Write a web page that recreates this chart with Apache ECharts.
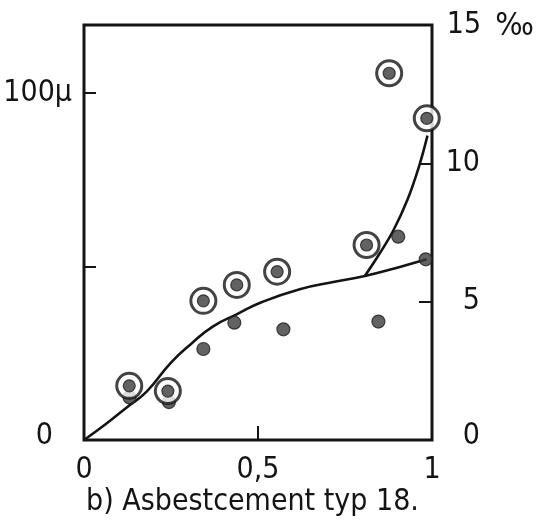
<!DOCTYPE html>
<html>
<head>
<meta charset="utf-8">
<script src="https://cdn.jsdelivr.net/npm/echarts@6/dist/echarts.min.js"></script>
<style>
  html, body { margin: 0; padding: 0; background: #fff; }
  #chart { width: 540px; height: 527px; }
</style>
</head>
<body>
<div id="chart"></div>
<script>
// Ringed measurements, left scale (μ)
const ringX = [0.130, 0.241, 0.343, 0.439, 0.555, 0.812, 0.877, 0.985];
const ringMicron = [15.6, 14.1, 40.1, 44.7, 48.5, 56.2, 105.7, 92.7];

// Plain measurements, right scale (‰)
const dotX = [0.131, 0.244, 0.343, 0.432, 0.573, 0.846, 0.903, 0.982];
const dotPermille = [1.54, 1.37, 3.29, 4.24, 4.00, 4.28, 7.35, 6.53];

// Drawn trend curve (‰) and its steep upper branch
const curveX = [0, 0.06, 0.12, 0.18, 0.25, 0.31, 0.37, 0.44, 0.51, 0.62, 0.72, 0.807, 0.90, 0.985];
const curvePermille = [0, 0.55, 1.15, 1.75, 2.8, 3.5, 4.1, 4.55, 4.98, 5.45, 5.72, 5.93, 6.23, 6.53];
const branchX = [0.807, 0.85, 0.89, 0.93, 0.963, 0.987];
const branchPermille = [5.93, 6.75, 7.6, 8.7, 9.9, 11.0];

// Axis ticks
const xTickLabels = { 0: '0', 0.5: '0,5', 1: '1' };
const leftTickLabels = { 0: '0', 100: '100μ' };
const rightTicks = [0, 5, 10, 15];

const FONT = "'Liberation Sans Narrow', 'DejaVu Sans Condensed', 'Liberation Sans', sans-serif";
const INK = '#141414';
const FS = 30;

const zip = (xs, ys) => xs.map((x, i) => [x, ys[i]]);

const chart = echarts.init(document.getElementById('chart'), null, { renderer: 'canvas' });

chart.setOption({
  backgroundColor: '#ffffff',
  animation: false,
  title: {
    text: 'b) Asbestcement typ 18.',
    left: 81,
    top: 482,
    textStyle: { fontFamily: FONT, fontSize: 30, fontWeight: 'normal', color: INK }
  },
  grid: {
    left: 84, right: 108, top: 25, bottom: 87,
    show: true, borderColor: INK, borderWidth: 3, backgroundColor: 'transparent'
  },
  xAxis: {
    type: 'value', min: 0, max: 1, interval: 0.5,
    axisLine: { show: false },
    axisTick: { show: true, inside: true, length: 14, lineStyle: { color: INK, width: 2 } },
    splitLine: { show: false },
    axisLabel: {
      margin: 15, fontFamily: FONT, fontSize: FS, color: INK,
      formatter: v => xTickLabels[v] ?? ''
    }
  },
  yAxis: [
    {
      type: 'value', min: 0, max: 119.6, interval: 50, position: 'left',
      axisLine: { show: false },
      axisTick: { show: true, inside: true, length: 12, lineStyle: { color: INK, width: 2 } },
      splitLine: { show: false },
      axisLabel: {
        margin: 12, showMaxLabel: false, fontFamily: FONT, fontSize: FS, color: INK,
        formatter: v => v === 0 ? '{z|0}' : (leftTickLabels[v] ?? ''),
        rich: { z: { fontFamily: FONT, fontSize: FS, color: INK, padding: [0, 19, 8, 0] } }
      }
    },
    {
      type: 'value', min: 0, max: 15, interval: 5, position: 'right',
      axisLine: { show: false },
      axisTick: { show: true, inside: true, length: 13, lineStyle: { color: INK, width: 2 } },
      splitLine: { show: false },
      axisLabel: {
        margin: 16, align: 'left', fontFamily: FONT, fontSize: FS, color: INK,
        formatter: v => {
          if (!rightTicks.includes(v)) return '';
          if (v === 15) return '{n|15}{u| ‰}';
          if (v === 0) return '{b|0}';
          return '{n|' + v + '}';
        },
        rich: {
          n: { width: 32, align: 'right', fontFamily: FONT, fontSize: FS, color: INK },
          b: { width: 32, align: 'right', fontFamily: FONT, fontSize: FS, color: INK, padding: [0, 0, 8, 0] },
          u: { fontFamily: FONT, fontSize: 32, color: INK, padding: [4, 0, 0, 6] }
        }
      }
    }
  ],
  series: [
    {
      type: 'line', yAxisIndex: 1, data: zip(curveX, curvePermille),
      smooth: 0.5, showSymbol: false, symbol: 'none',
      lineStyle: { color: INK, width: 2.6 }, z: 3
    },
    {
      type: 'line', yAxisIndex: 1, data: zip(branchX, branchPermille),
      smooth: 0.4, showSymbol: false, symbol: 'none',
      lineStyle: { color: INK, width: 2.6 }, z: 3
    },
    {
      // plain measured points
      type: 'scatter', yAxisIndex: 1, data: zip(dotX, dotPermille),
      symbol: 'circle', symbolSize: 13,
      itemStyle: { color: '#3b3b3b', borderColor: '#1e1e1e', borderWidth: 1.2 }, z: 4
    },
    {
      // outer rings of the ringed points
      type: 'scatter', yAxisIndex: 0, data: zip(ringX, ringMicron),
      symbol: 'circle', symbolSize: 25,
      itemStyle: { color: '#ffffff', borderColor: INK, borderWidth: 3 }, z: 5
    },
    {
      // filled centres of the ringed points
      type: 'scatter', yAxisIndex: 0, data: zip(ringX, ringMicron),
      symbol: 'circle', symbolSize: 12,
      itemStyle: { color: '#3b3b3b', borderColor: '#1e1e1e', borderWidth: 1.2 }, z: 6
    }
  ]
});
</script>
</body>
</html>
